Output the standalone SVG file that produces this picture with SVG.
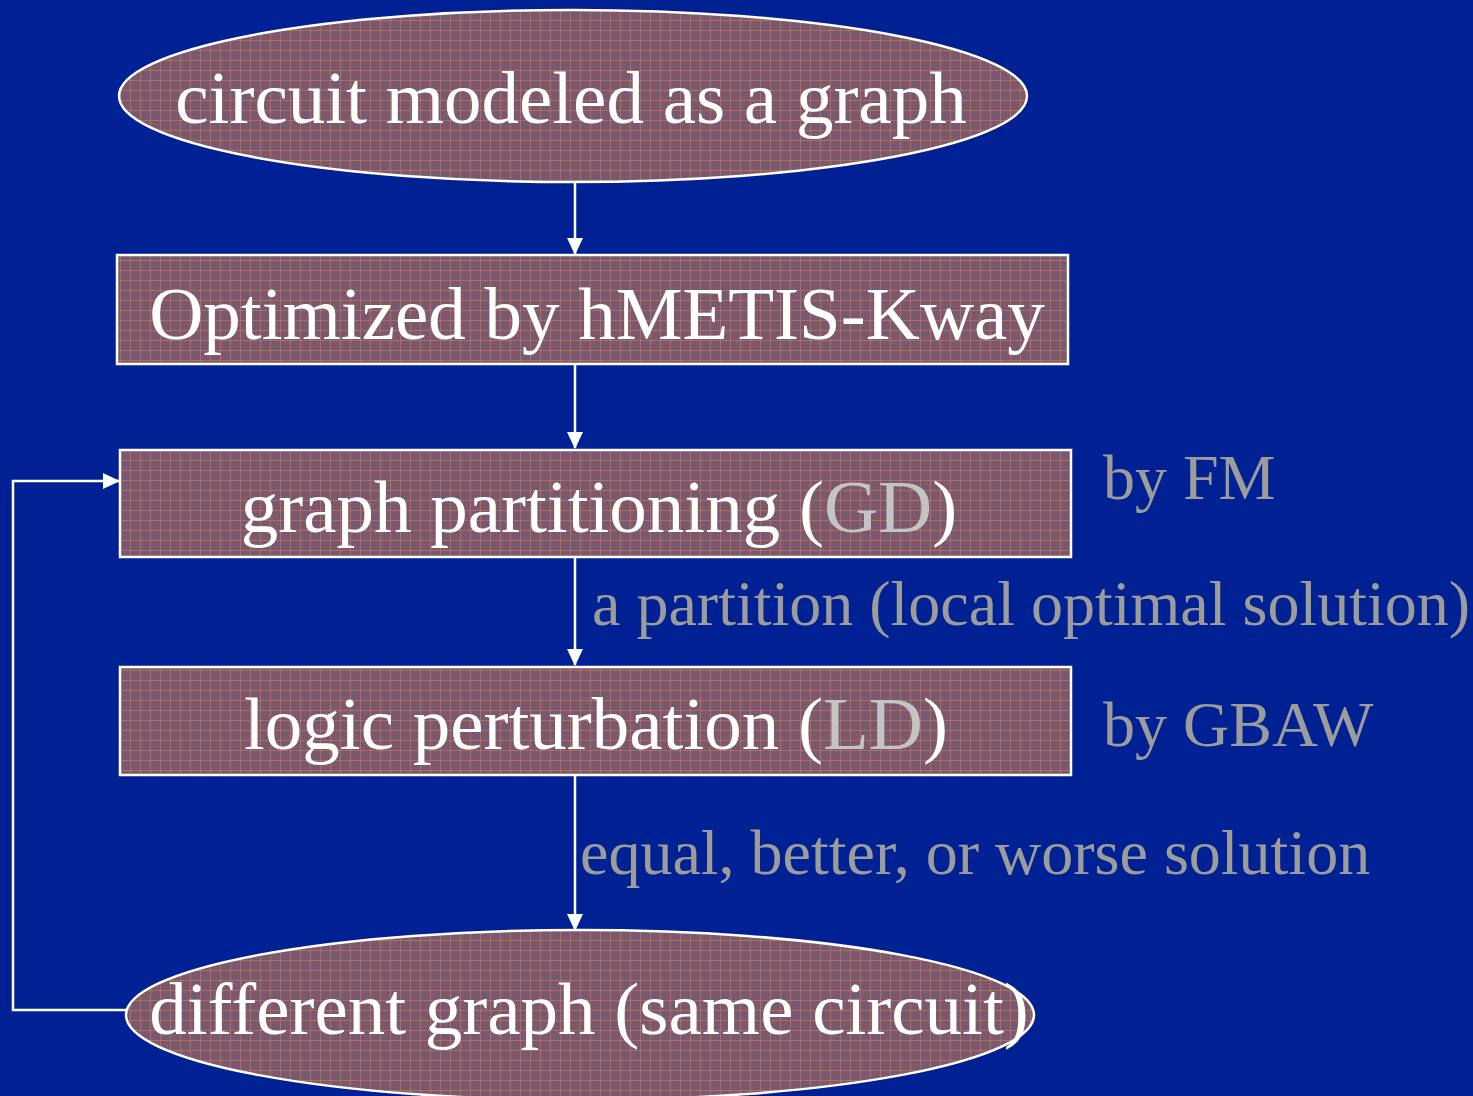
<svg xmlns="http://www.w3.org/2000/svg" width="1473" height="1096" viewBox="0 0 1473 1096">
<defs>
<pattern id="grid" width="10" height="10" patternUnits="userSpaceOnUse">
<rect width="10" height="10" fill="#7a5870"/>
<path d="M0 0.5H10M0.5 0V10" stroke="#e8893a" stroke-width="1" stroke-opacity="0.45"/>
</pattern>
<marker id="ah" markerWidth="17" markerHeight="16" refX="16" refY="8" orient="auto" markerUnits="userSpaceOnUse">
<path d="M0 0L17 8L0 16z" fill="#ffffff"/>
</marker>
<style>
.node{fill:url(#grid);stroke:#ffffff;stroke-width:2.5}
.t{font-family:"Liberation Serif","Times New Roman",serif;font-size:75px;fill:#ffffff;text-anchor:middle}
.g{fill:#c4c4c4}
.s{font-family:"Liberation Serif","Times New Roman",serif;font-size:64px;fill:#9c9c9c}
.c{fill:none;stroke:#ffffff;stroke-width:2.5}
</style>
</defs>
<rect width="1473" height="1096" fill="#002193"/>
<g id="connectors">
<line class="c" x1="575" y1="176" x2="575" y2="254" marker-end="url(#ah)"/>
<line class="c" x1="575" y1="365" x2="575" y2="448" marker-end="url(#ah)"/>
<line class="c" x1="575" y1="558" x2="575" y2="665" marker-end="url(#ah)"/>
<line class="c" x1="575" y1="776" x2="575" y2="930" marker-end="url(#ah)"/>
<polyline class="c" points="127,1010 13,1010 13,481 119,481" marker-end="url(#ah)"/>
</g>
<g id="n1">
<ellipse class="node" cx="573" cy="96" rx="454" ry="86"/>
<text class="t" x="571" y="123">circuit modeled as a graph</text>
</g>
<g id="n2">
<rect class="node" x="117" y="255" width="951" height="109"/>
<text class="t" x="597" y="339">Optimized by hMETIS-Kway</text>
</g>
<g id="n3">
<rect class="node" x="120" y="450" width="951" height="107"/>
<text class="t" x="599" y="532">graph partitioning (<tspan class="g">GD</tspan>)</text>
</g>
<g id="n4">
<rect class="node" x="120" y="667" width="951" height="108"/>
<text class="t" x="596" y="749">logic perturbation (<tspan class="g">LD</tspan>)</text>
</g>
<g id="n5">
<ellipse class="node" cx="580" cy="1015" rx="454" ry="85"/>
<text class="t" x="589" y="1034">different graph (same circuit)</text>
</g>
<g id="labels">
<text class="s" x="1103" y="499">by FM</text>
<text class="s" x="592" y="625">a partition (local optimal solution)</text>
<text class="s" x="1103" y="746">by GBAW</text>
<text class="s" x="580" y="874">equal, better, or worse solution</text>
</g>
</svg>
